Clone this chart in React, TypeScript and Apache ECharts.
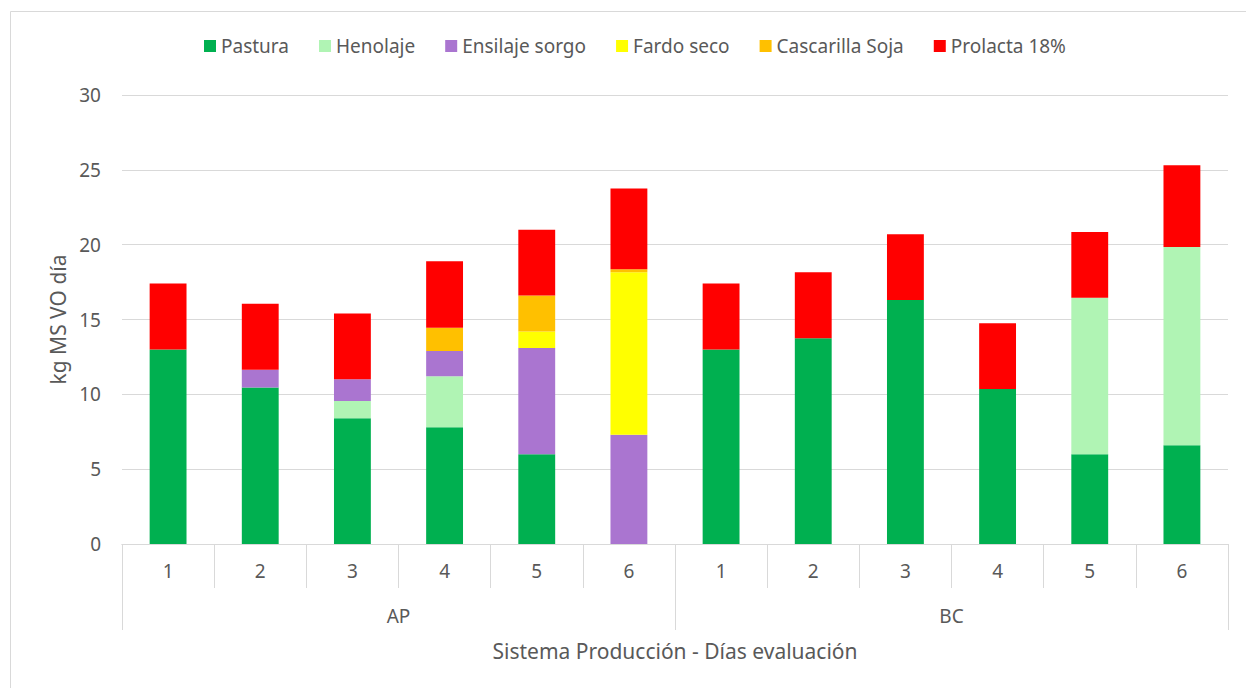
import React, { useEffect, useRef } from "react";
import * as echarts from "echarts";

const systems = ["AP", "BC"];
const days = ["1", "2", "3", "4", "5", "6"];
const categories = systems.flatMap((s) => days.map((d) => `${s}-${d}`));

const pastura = [13.0, 10.45, 8.4, 7.8, 6.0, 0, 13.0, 13.75, 16.3, 10.35, 6.0, 6.6];
const henolaje = [0, 0, 1.15, 3.4, 0, 0, 0, 0, 0, 0, 10.45, 13.25];
const ensilajeSorgo = [0, 1.2, 1.45, 1.7, 7.1, 7.3, 0, 0, 0, 0, 0, 0];
const fardoSeco = [0, 0, 0, 0, 1.1, 10.85, 0, 0, 0, 0, 0, 0];
const cascarillaSoja = [0, 0, 0, 1.55, 2.4, 0.2, 0, 0, 0, 0, 0, 0];
const prolacta = [4.4, 4.4, 4.4, 4.45, 4.4, 5.4, 4.4, 4.4, 4.4, 4.4, 4.4, 5.45];

const seriesNames = ["Pastura", "Henolaje", "Ensilaje sorgo", "Fardo seco", "Cascarilla Soja", "Prolacta 18%"];
const seriesValues = [pastura, henolaje, ensilajeSorgo, fardoSeco, cascarillaSoja, prolacta];
const seriesColors = ["#00B050", "#B0F4B4", "#AA75D0", "#FFFF00", "#FFC000", "#FF0000"];

const yTicks = { min: 0, max: 30, interval: 5 };

const FONT = "Noto Sans";
const TEXT = "#595959";
const GRID = "#D9D9D9";

export default function App() {
  const ref = useRef<HTMLDivElement>(null);
  useEffect(() => {
    document.body.style.margin = "0";
    document.body.style.overflow = "hidden";
    const chart = echarts.init(ref.current!, undefined, { renderer: "svg" });
    chart.setOption({
      animation: false,
      backgroundColor: "#FFFFFF",
      textStyle: { fontFamily: FONT, color: TEXT },
      graphic: [
        {
          type: "rect",
          shape: { x: 10.5, y: 11.5, width: 2000, height: 2000 },
          style: { fill: "none", stroke: GRID, lineWidth: 1 },
          silent: true,
        },
      ],
      legend: {
        top: 36,
        left: 204,
        padding: 0,
        itemWidth: 12,
        itemHeight: 12,
        itemGap: 30,
        itemTextGap: 6,
        icon: "rect",
        textStyle: { fontFamily: FONT, fontSize: 19, color: TEXT, lineHeight: 20 },
        data: seriesNames,
      },
      grid: { left: 122, right: 18, top: 95, bottom: 144, containLabel: false },
      xAxis: [
        {
          type: "category",
          data: categories,
          position: "bottom",
          axisLine: { show: true, lineStyle: { color: GRID, width: 1 } },
          axisTick: { show: true, length: 44, lineStyle: { color: GRID, width: 1 } },
          axisLabel: {
            interval: 0,
            margin: 17,
            fontFamily: FONT,
            fontSize: 19,
            color: TEXT,
            formatter: (v: string) => v.split("-")[1],
          },
          name: "Sistema Producción - Días evaluación",
          nameLocation: "middle",
          nameGap: 96,
          nameTextStyle: { fontFamily: FONT, fontSize: 21, color: TEXT },
        },
        {
          type: "category",
          data: systems,
          position: "bottom",
          axisLine: { show: true, lineStyle: { color: GRID, width: 1 } },
          axisTick: { show: true, length: 86, lineStyle: { color: GRID, width: 1 } },
          axisLabel: { interval: 0, margin: 62, fontFamily: FONT, fontSize: 19, color: TEXT },
          splitLine: { show: false },
        },
      ],
      yAxis: {
        type: "value",
        min: yTicks.min,
        max: yTicks.max,
        interval: yTicks.interval,
        axisLine: { show: false },
        axisTick: { show: false },
        axisLabel: { margin: 21, fontFamily: FONT, fontSize: 19, color: TEXT },
        splitLine: { lineStyle: { color: GRID, width: 1 } },
        name: "kg MS VO día",
        nameLocation: "middle",
        nameGap: 54,
        nameTextStyle: { fontFamily: FONT, fontSize: 21, color: TEXT },
      },
      series: seriesNames.map((name, i) => ({
        name,
        type: "bar",
        stack: "total",
        xAxisIndex: 0,
        barWidth: "40%",
        data: seriesValues[i],
        itemStyle: { color: seriesColors[i] },
        emphasis: { disabled: true },
      })),
    });
    return () => chart.dispose();
  }, []);
  return <div ref={ref} style={{ width: 1246, height: 688 }} />;
}
